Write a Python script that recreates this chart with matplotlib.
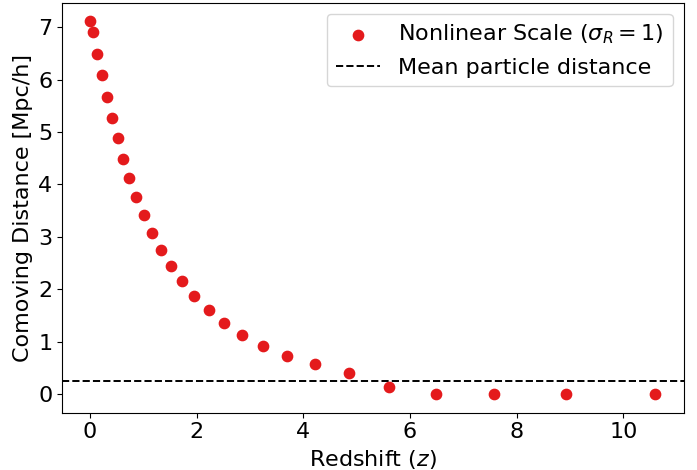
import numpy as np
import matplotlib
matplotlib.use('Agg')
import matplotlib.pyplot as plt

# redshift and comoving nonlinear scale
redshift = [0.01, 0.056, 0.14, 0.23, 0.325, 0.42, 0.525, 0.63, 0.74, 0.875,
            1.02, 1.17, 1.34, 1.52, 1.73, 1.96, 2.23, 2.51, 2.86, 3.24,
            3.70, 4.22, 4.85, 5.60, 6.49, 7.58, 8.92, 10.60]
nonlinear_scale = [7.11, 6.90, 6.49, 6.08, 5.67, 5.27, 4.88, 4.49, 4.12, 3.76,
                   3.42, 3.08, 2.75, 2.44, 2.15, 1.87, 1.60, 1.35, 1.13, 0.92,
                   0.73, 0.575, 0.41, 0.14, 0.0, 0.0, 0.0, 0.0]
mean_particle_distance = 0.25

FS = 16

fig = plt.figure(figsize=(6.97, 4.7), dpi=100)
ax = fig.add_subplot(111)
fig.subplots_adjust(left=0.089, right=0.981, bottom=0.122, top=0.994)

ax.scatter(redshift, nonlinear_scale, s=55, color='#e41a1c',
           label=r'Nonlinear Scale ($\sigma_R = 1$)', zorder=3)
ax.axhline(mean_particle_distance, color='k', ls='--', lw=1.4,
           label='Mean particle distance')

ax.set_xlabel(r'Redshift ($z$)', fontsize=FS)
ax.set_ylabel('Comoving Distance [Mpc/h]', fontsize=FS)
ax.set_xticks([0, 2, 4, 6, 8, 10])
ax.set_yticks(range(8))
ax.tick_params(labelsize=FS)
ax.legend(fontsize=FS, loc='upper right')

fig.savefig('out.png', dpi=100)
